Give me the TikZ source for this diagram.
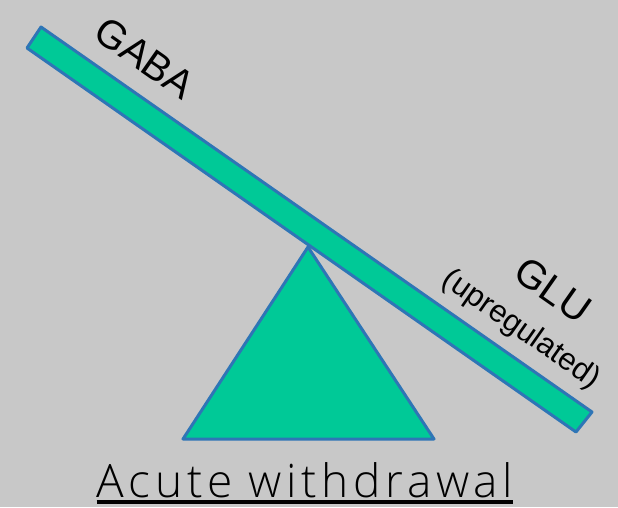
\documentclass[tikz,border=0pt]{standalone}
\usepackage{fontspec}
\setmainfont{Liberation Sans}
\newfontfamily\lightfont{Open Sans Light}[LetterSpace=10]
\definecolor{bg}{RGB}{200,200,200}
\definecolor{seegreen}{RGB}{0,201,151}
\definecolor{edgeblue}{RGB}{46,117,182}
\tikzset{
  part/.style={fill=seegreen, draw=edgeblue, line width=3pt, line join=round},
  lbl/.style={inner sep=0pt, text=black}
}
\begin{document}
\begin{tikzpicture}[x=1pt,y=-1pt]
\useasboundingbox[fill=bg] (0,0) rectangle (618,507);
% fulcrum
\draw[part] (308,247) -- (183,439) -- (434,439) -- cycle;
% beam
\draw[part] (41,27) -- (592,412) -- (576,432) -- (27,48) -- cycle;
% labels
\node[lbl, rotate=-35, font=\fontsize{40}{40}\selectfont] (gaba) at (145,58) {GABA};
\node[lbl, rotate=-35, font=\fontsize{40}{40}\selectfont] (glu) at (553,290) {GLU};
\node[lbl, rotate=-35, font=\fontsize{31}{31}\selectfont] (upreg) at (521,330) {(upregulated)};
\node[lbl, anchor=base, font=\lightfont\fontsize{46}{46}\selectfont] (title) at (305,497) {Acute withdrawal};
\draw[line width=4pt] ([yshift=-5pt]title.base west) -- ([yshift=-5pt]title.base east);
\end{tikzpicture}
\end{document}
